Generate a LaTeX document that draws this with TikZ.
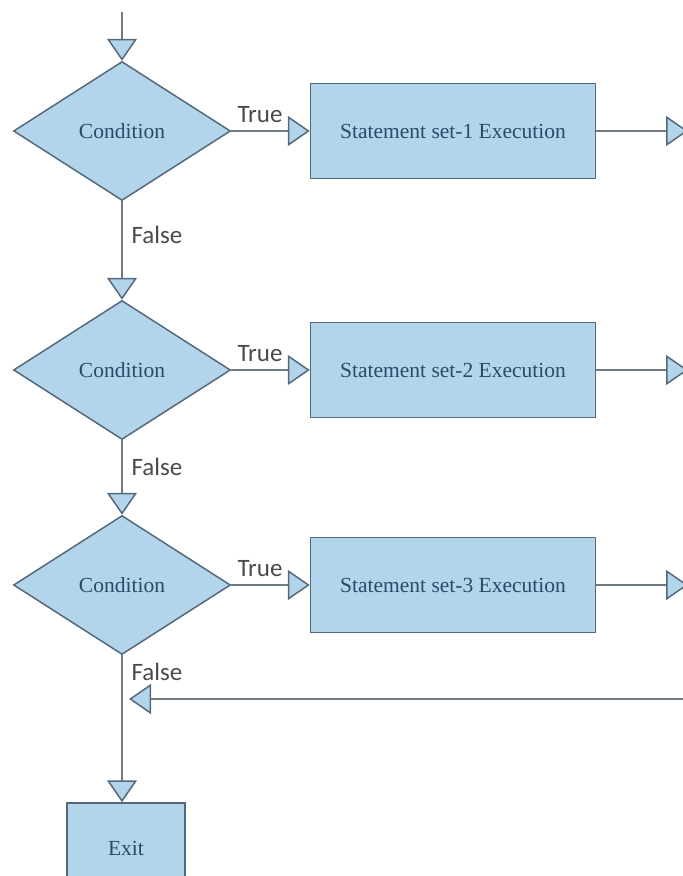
\documentclass[tikz,border=0pt]{standalone}
\usepackage{fontspec}
\setmainfont{Liberation Serif}
\newfontfamily\labelfont{Carlito}
\usetikzlibrary{shapes.geometric,arrows.meta}
\definecolor{boxfill}{HTML}{B3D5EC}
\definecolor{boxline}{HTML}{56697A}
\definecolor{wire}{HTML}{6E7B84}
\definecolor{boxtext}{HTML}{2C4A66}
\definecolor{labeltext}{HTML}{4A4A4A}
\tikzset{
  cond/.style={diamond, aspect=1.56, draw=boxline, fill=boxfill, line width=1.5pt,
    minimum width=217pt, minimum height=139pt, inner sep=0pt,
    text=boxtext, font=\fontsize{21.5}{24}\selectfont},
  stmt/.style={rectangle, draw=boxline, fill=boxfill, line width=1.5pt,
    minimum width=285pt, minimum height=95pt, inner sep=0pt,
    text=boxtext, font=\fontsize{21.5}{24}\selectfont},
  flow/.style={draw=wire, line width=1.5pt,
    -{Triangle[width=30pt,length=22pt,color=boxline,fill=boxfill]}},
  tag/.style={text=labeltext, font=\labelfont\fontsize{25}{28}\selectfont, inner sep=0pt}
}
\begin{document}
\begin{tikzpicture}[x=1pt,y=-1pt]
  \useasboundingbox (0,0) rectangle (683,876);
  \coordinate (start) at (122,12);
  % three tests, each with its statement block
  \foreach \n/\y/\f in {1/131/235,2/370/467,3/585/672}{
    \node[cond] (cond\n) at (122,\y) {Condition};
    \node[stmt] (stmt\n) at (453,\y) {Statement set-\n{} Execution};
    \coordinate (out\n) at (688,\y);
    \draw[flow] (cond\n.east) -- (stmt\n.west);
    \draw[flow] (stmt\n.east) -- (out\n);
    \node[tag] (true\n) at (260,\y-16) {True};
    \node[tag] (false\n) at (157,\f) {False};
  }
  \node[stmt, minimum width=118pt, minimum height=90pt] (exit) at (126,848) {Exit};
  \coordinate (back) at (690,699);
  \coordinate (merge) at (129,699);
  \draw[flow] (start) -- (cond1.north);
  \draw[flow] (cond1.south) -- (cond2.north);
  \draw[flow] (cond2.south) -- (cond3.north);
  \draw[flow] (cond3.south) -- (cond3.south |- exit.north);
  \draw[flow] (back) -- (merge);
\end{tikzpicture}
\end{document}
